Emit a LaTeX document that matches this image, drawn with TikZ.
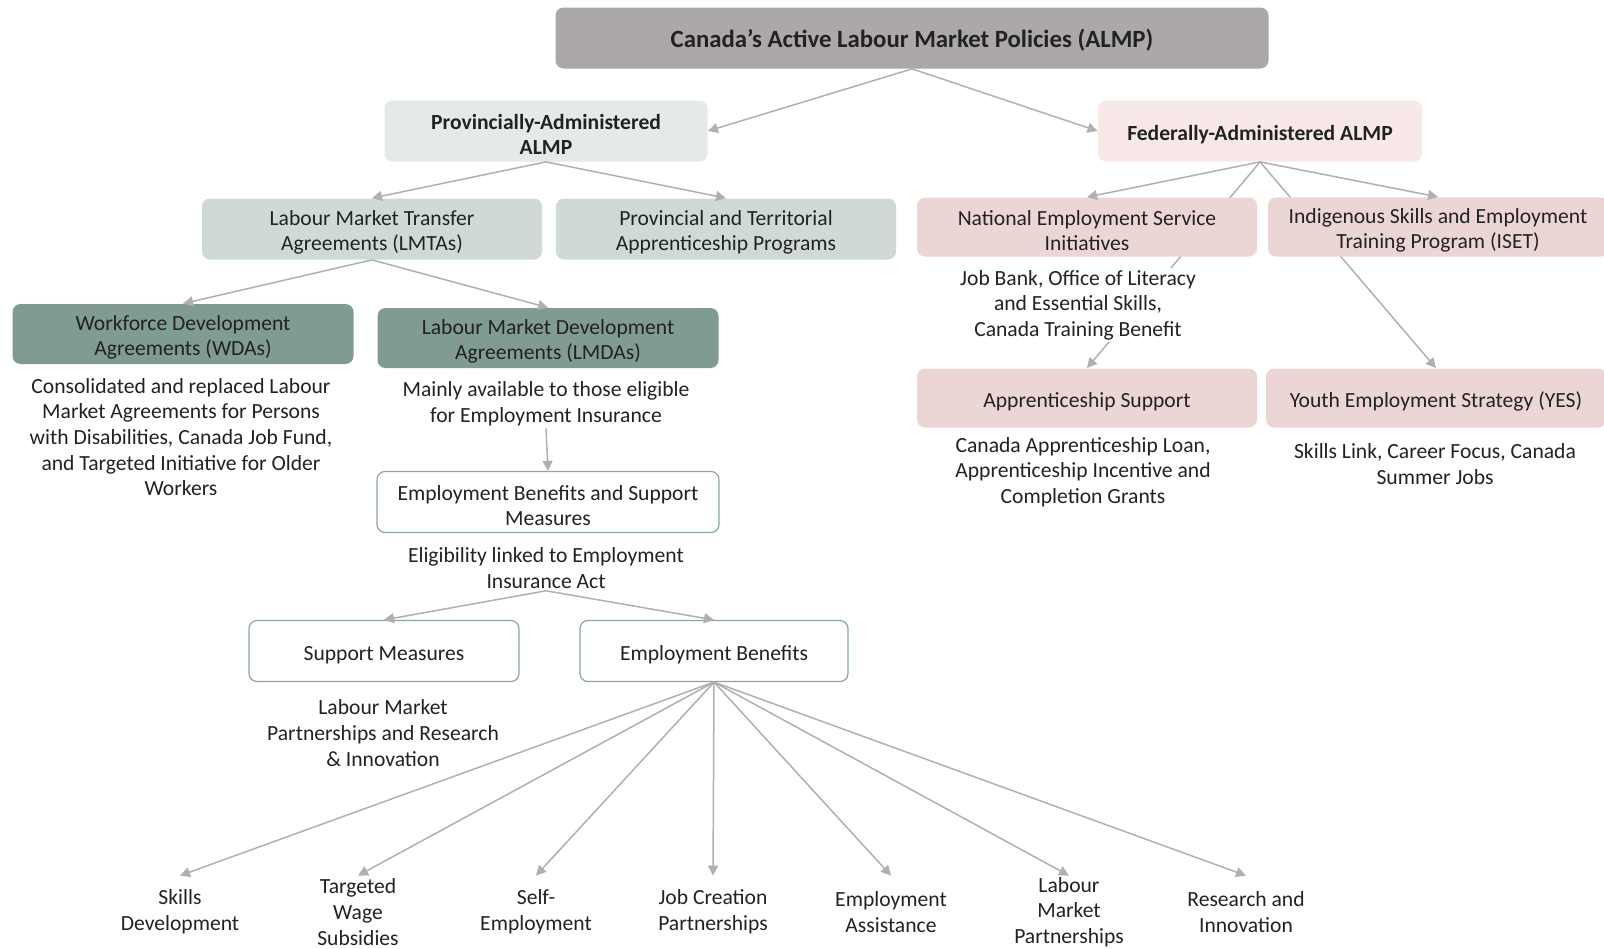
\documentclass[tikz,border=0pt]{standalone}
\usepackage{fontspec}
\setmainfont{Carlito}
\usetikzlibrary{arrows.meta,positioning,backgrounds}
\definecolor{topgray}{HTML}{ADA8A8}
\definecolor{provpale}{HTML}{E4EAE9}
\definecolor{fedpale}{HTML}{F8E8E8}
\definecolor{provmid}{HTML}{CFDAD8}
\definecolor{fedmid}{HTML}{ECD6D5}
\definecolor{provdark}{HTML}{7F9B93}
\definecolor{edgegreen}{HTML}{8AA79D}
\definecolor{linkgray}{HTML}{B0B0B0}
\definecolor{ink}{HTML}{222222}
\newcommand{\topstrut}{\rule{0pt}{11pt}}

\tikzset{
  box/.style={rounded corners=4pt, align=center, inner sep=2pt,
              minimum height=30.5pt, text=ink,
              font=\fontsize{10.8}{12.8}\selectfont},
  headbox/.style={box, fill=topgray, minimum width=356.5pt,
                  font=\fontsize{12.4}{12.8}\selectfont\bfseries},
  provhead/.style={box, fill=provpale, minimum width=161.5pt,
                   font=\fontsize{10.8}{12.8}\selectfont\bfseries},
  fedhead/.style={box, fill=fedpale, minimum width=162pt,
                  font=\fontsize{10.8}{12.8}\selectfont\bfseries},
  provbox/.style={box, fill=provmid, minimum width=170pt},
  fedbox/.style={box, fill=fedmid, minimum width=170pt, minimum height=29.5pt},
  agreebox/.style={box, fill=provdark, minimum width=170.5pt, minimum height=30pt},
  plainbox/.style={box, draw=edgegreen, line width=0.6pt, fill=white},
  note/.style={align=center, fill=white, inner sep=1pt, text=ink,
               font=\fontsize{10.8}{12.8}\selectfont},
  leaf/.style={note, fill=none, inner sep=0pt, minimum height=36pt},
  link/.style={draw=linkgray, line width=0.75pt,
               -{Triangle[length=5pt,width=5pt]}}
}

\begin{document}
\begin{tikzpicture}[x=0.5pt, y=-0.5pt]
    \useasboundingbox (0,0) rectangle (1604,948);

    % top level
    \node[headbox] (almp) at (912,38) {\topstrut Canada’s Active Labour Market Policies (ALMP)};
    \node[provhead] (prov) at (546,131) {\topstrut Provincially-Administered\\ALMP};
    \node[fedhead] (fed) at (1260,131) {\topstrut Federally-Administered ALMP};

    % provincial side
    \node[provbox] (lmta) at (372,229) {\topstrut Labour Market Transfer\\Agreements (LMTAs)};
    \node[provbox] (ptap) at (726,229) {\topstrut Provincial and Territorial\\Apprenticeship Programs};
    \node[agreebox] (wda) at (183,334) {\topstrut Workforce Development\\Agreements (WDAs)};
    \node[agreebox] (lmda) at (548,338) {\topstrut Labour Market Development\\Agreements (LMDAs)};
    \node[note] (wdanote) at (181,437) {Consolidated and replaced Labour\\Market Agreements for Persons\\with Disabilities, Canada Job Fund,\\and Targeted Initiative for Older\\Workers};
    \node[note] (lmdanote) at (546,404) {Mainly available to those eligible\\for Employment Insurance};
    \node[plainbox, minimum width=171pt] (ebsm) at (548,502) {\topstrut Employment Benefits and Support\\Measures};
    \node[note] (ebsmnote) at (546,568) {Eligibility linked to Employment\\Insurance Act};
    \node[plainbox, minimum width=135pt] (supp) at (384,651) {\topstrut Support Measures};
    \node[plainbox, minimum width=134pt] (empb) at (714,651) {\topstrut Employment Benefits};
    \node[note] (suppnote) at (383,733) {Labour Market\\Partnerships and Research\\\& Innovation};

    % federal side
    \node[fedbox] (nesi) at (1087,227) {\topstrut National Employment Service\\Initiatives};
    \node[fedbox] (iset) at (1438,227) {\topstrut Indigenous Skills and Employment\\Training Program (ISET)};
    \node[note] (nesinote) at (1078,305) {Job Bank, Office of Literacy\\and Essential Skills,\\Canada Training Benefit};
    \node[fedbox] (appr) at (1087,398) {\topstrut Apprenticeship Support};
    \node[fedbox] (yes) at (1436,398) {\topstrut Youth Employment Strategy (YES)};
    \node[note] (apprnote) at (1083,472) {Canada Apprenticeship Loan,\\Apprenticeship Incentive and\\Completion Grants};
    \node[note] (yesnote) at (1435,464) {Skills Link, Career Focus, Canada\\Summer Jobs};

    % employment benefit types
    \foreach \nm/\xx/\txt in {skd/180/{Skills\\Development},
                              tws/358/{Targeted\\Wage\\Subsidies},
                              sem/536/{Self-\\Employment},
                              jcp/713/{Job Creation\\Partnerships},
                              eas/891/{Employment\\Assistance},
                              lmp/1069/{Labour\\Market\\Partnerships},
                              rni/1246/{Research and\\Innovation}}{
      \node[leaf] (\nm) at (\xx,912) {\txt};
      \draw[link] (empb.south) -- (\nm.north);
    }

    % connectors
    \draw[link] (almp.south) -- (prov.east);
    \draw[link] (almp.south) -- (fed.west);
    \draw[link] (prov.south) -- (lmta.north);
    \draw[link] (prov.south) -- (ptap.north);
    \draw[link] (lmta.south) -- (wda.north);
    \draw[link] (lmta.south) -- (lmda.north);
    \draw[link] (lmdanote.south) -- (ebsm.north);
    \draw[link] (ebsmnote.south) -- (supp.north);
    \draw[link] (ebsmnote.south) -- (empb.north);
    \draw[link] (fed.south) -- (nesi.north);
    \draw[link] (fed.south) -- (iset.north);
    \begin{scope}[on background layer]
      \draw[link] (fed.south) -- (appr.north);
      \draw[link] (fed.south) -- (yes.north);
    \end{scope}
\end{tikzpicture}
\end{document}
